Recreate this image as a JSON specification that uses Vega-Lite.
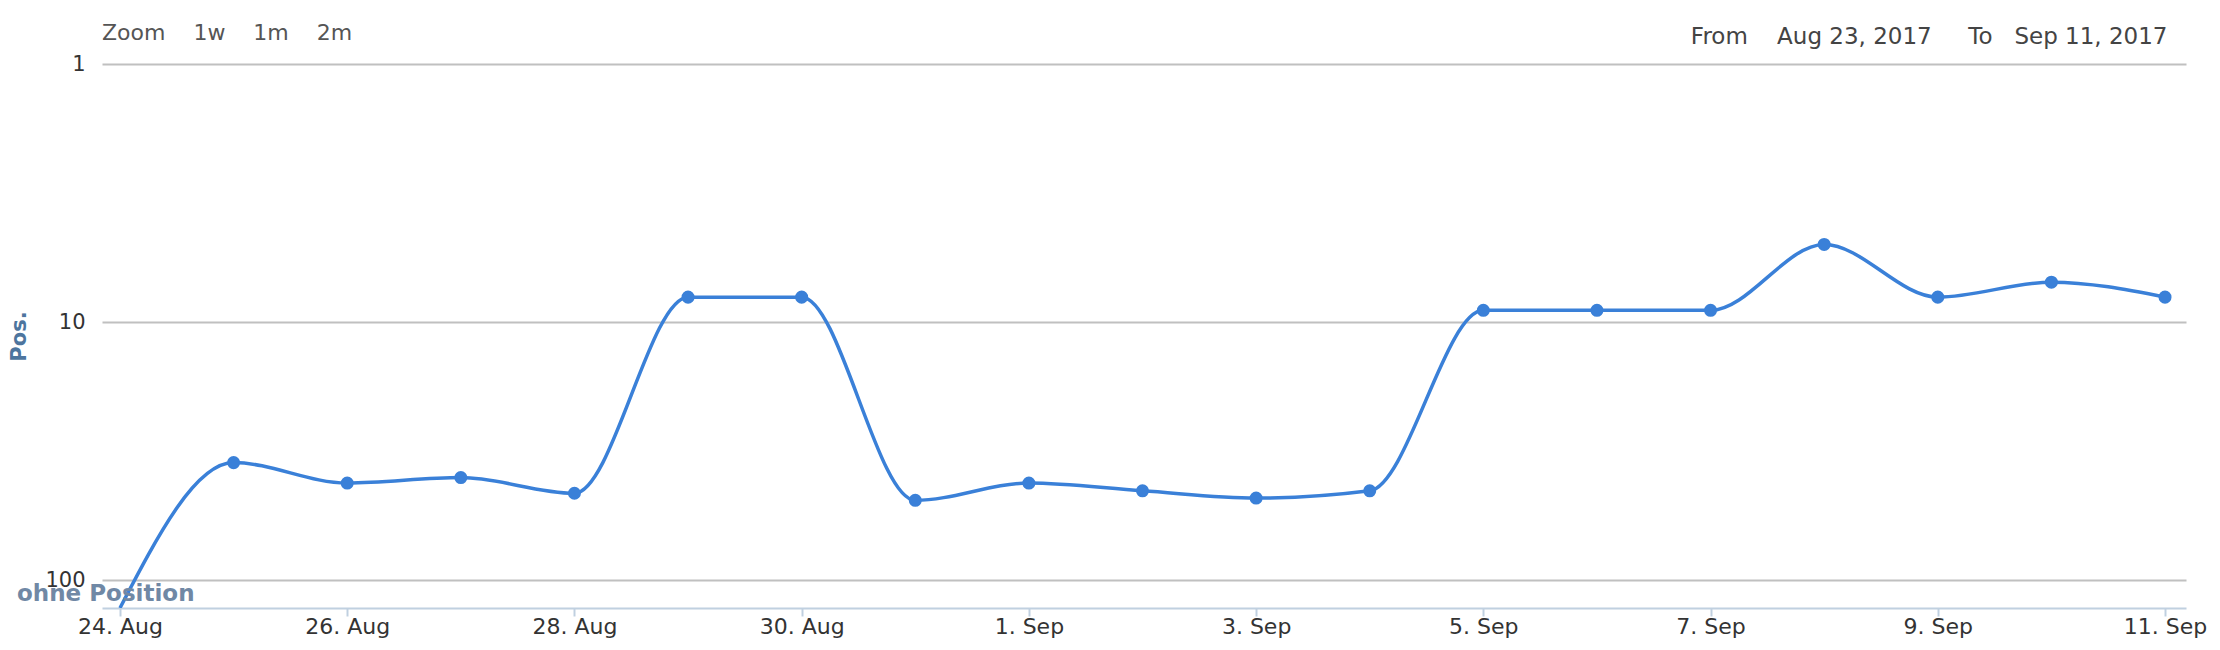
{
  "$schema": "https://vega.github.io/schema/vega-lite/v6.json",
  "autosize": {"type": "none"},
  "padding": {"left": 102, "top": 64, "right": 34, "bottom": 42},
  "width": 2084,
  "height": 544,
  "background": "white",
  "config": {
    "font": "DejaVu Sans",
    "view": {"stroke": null}
  },
  "title": {
    "text": "Zoom\u00a0\u00a0\u00a0\u00a01w\u00a0\u00a0\u00a0\u00a01m\u00a0\u00a0\u00a0\u00a02m",
    "anchor": "start",
    "frame": "group",
    "fontSize": 22,
    "fontWeight": "normal",
    "color": "#555555",
    "offset": -20
  },
  "data": {
    "values": [
      {"date": "2017-08-24T00:00:00", "pos": 128},
      {"date": "2017-08-25T00:00:00", "pos": 35},
      {"date": "2017-08-26T00:00:00", "pos": 42},
      {"date": "2017-08-27T00:00:00", "pos": 40},
      {"date": "2017-08-28T00:00:00", "pos": 46},
      {"date": "2017-08-29T00:00:00", "pos": 8},
      {"date": "2017-08-30T00:00:00", "pos": 8},
      {"date": "2017-08-31T00:00:00", "pos": 49},
      {"date": "2017-09-01T00:00:00", "pos": 42},
      {"date": "2017-09-02T00:00:00", "pos": 45},
      {"date": "2017-09-03T00:00:00", "pos": 48},
      {"date": "2017-09-04T00:00:00", "pos": 45},
      {"date": "2017-09-05T00:00:00", "pos": 9},
      {"date": "2017-09-06T00:00:00", "pos": 9},
      {"date": "2017-09-07T00:00:00", "pos": 9},
      {"date": "2017-09-08T00:00:00", "pos": 5},
      {"date": "2017-09-09T00:00:00", "pos": 8},
      {"date": "2017-09-10T00:00:00", "pos": 7},
      {"date": "2017-09-11T00:00:00", "pos": 8}
    ]
  },
  "layer": [
    {
      "mark": {"type": "line", "interpolate": "monotone", "color": "#3a80d8", "strokeWidth": 3.5, "clip": true},
      "encoding": {
        "x": {
          "field": "date",
          "type": "temporal",
          "scale": {"domain": ["2017-08-23T20:12:00", "2017-09-11T04:26:00"], "nice": false},
          "axis": {
            "orient": "bottom",
            "title": null,
            "format": "%-d. %b",
            "values": [
              {"year": 2017, "month": 8, "date": 24},
              {"year": 2017, "month": 8, "date": 26},
              {"year": 2017, "month": 8, "date": 28},
              {"year": 2017, "month": 8, "date": 30},
              {"year": 2017, "month": 9, "date": 1},
              {"year": 2017, "month": 9, "date": 3},
              {"year": 2017, "month": 9, "date": 5},
              {"year": 2017, "month": 9, "date": 7},
              {"year": 2017, "month": 9, "date": 9},
              {"year": 2017, "month": 9, "date": 11}
            ],
            "grid": false,
            "domainColor": "#c0d0e0",
            "domainWidth": 2,
            "tickColor": "#c0d0e0",
            "tickWidth": 2,
            "tickSize": 8,
            "labelFontSize": 22,
            "labelColor": "#333333",
            "labelPadding": 0,
            "labelFlush": false,
            "labelOverlap": false
          }
        },
        "y": {
          "field": "pos",
          "type": "quantitative",
          "scale": {"type": "log", "domain": [1, 128], "reverse": true, "nice": false},
          "axis": {
            "title": "Pos.",
            "titleColor": "#4d759e",
            "titleFontSize": 21,
            "titleFontWeight": "bold",
            "titlePadding": 15,
            "values": [1, 10, 100],
            "format": "d",
            "grid": true,
            "gridColor": "#c0c0c0",
            "gridWidth": 2,
            "ticks": false,
            "domain": false,
            "labelFontSize": 21,
            "labelColor": "#333333",
            "labelPadding": 17,
            "labelBaseline": "middle"
          }
        }
      }
    },
    {
      "transform": [{"filter": "datum.pos < 120"}],
      "mark": {"type": "circle", "color": "#3a80d8", "size": 170, "opacity": 1},
      "encoding": {
        "x": {
          "field": "date",
          "type": "temporal",
          "axis": {
            "orient": "top",
            "title": "From\u00a0\u00a0\u00a0\u00a0Aug 23, 2017\u00a0\u00a0\u00a0\u00a0\u00a0To\u00a0\u00a0\u00a0Sep 11, 2017",
            "titleAnchor": "end",
            "titleAlign": "right",
            "titleX": 2065,
            "titleFontSize": 23,
            "titleFontWeight": "normal",
            "titleColor": "#444444",
            "titlePadding": 16,
            "labels": false,
            "ticks": false,
            "domain": false,
            "grid": false
          }
        },
        "y": {"field": "pos", "type": "quantitative"}
      }
    },
    {
      "data": {"values": [{"label": "ohne Position"}]},
      "mark": {"type": "text", "fontSize": 23, "fontWeight": "bold", "color": "#7088a5", "align": "center", "baseline": "middle", "clip": false},
      "encoding": {
        "x": {"datum": {"year": 2017, "month": 8, "date": 23, "hours": 21, "minutes": 0}, "type": "temporal", "axis": null},
        "y": {"datum": 113, "type": "quantitative"},
        "text": {"field": "label", "type": "nominal"}
      }
    }
  ],
  "resolve": {"axis": {"x": "independent"}}
}
